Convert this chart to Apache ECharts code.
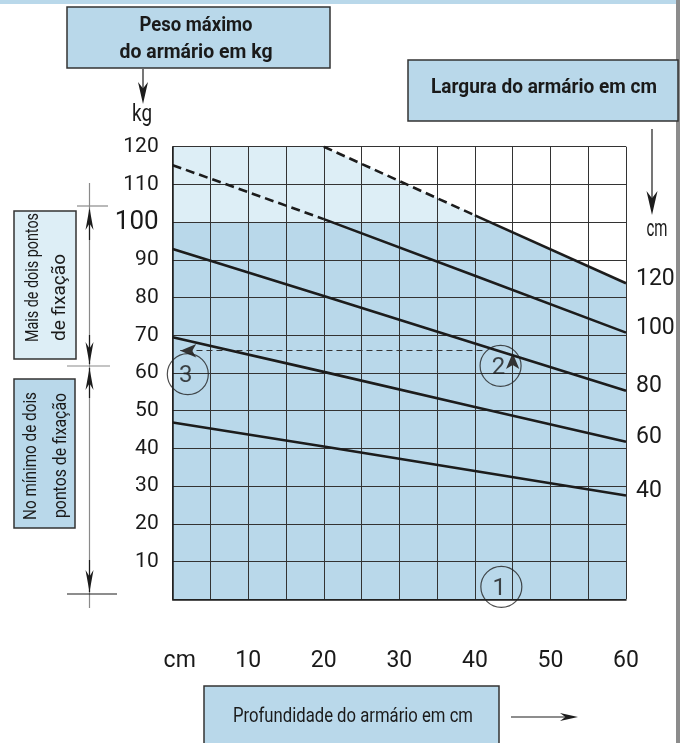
<!DOCTYPE html>
<html><head><meta charset="utf-8">
<script src="https://cdn.jsdelivr.net/npm/echarts@6/dist/echarts.min.js"></script>
<style>html,body{margin:0;padding:0;background:#fff}#c{width:682px;height:743px}</style>
</head><body><div id="c"></div>
<script>
// ---- data ----
const depth = [0, 20, 40, 60];                 // Profundidade (cm)
const w40 = [46.9, 40.5, 34.0, 27.5];          // Largura 40 cm
const w60 = [69.5, 60.3, 51.0, 41.8];          // Largura 60 cm
const w80 = [92.9, 80.4, 67.8, 55.3];          // Largura 80 cm
const w100Dashed = [[0, 115.1], [20, 100.8]];  // Largura 100 cm (above 100 kg)
const w100Solid = [[20, 100.8], [40, 85.8], [60, 70.7]];
const w120Dashed = [[20, 120], [40, 101.8]];   // Largura 120 cm (above 100 kg)
const w120Solid = [[40, 101.8], [60, 83.8]];
const lightFill = [[0, 120], [20, 120], [40, 101.8], [60, 83.8]];
const darkFill = [[0, 100], [42, 100], [60, 83.8]];
const xLabelTexts = {0: 'cm', 10: '10', 20: '20', 30: '30', 40: '40', 50: '50', 60: '60'};
const guideUp = [[45, 0], [45, 65.3]];
const guideLeft = [[41, 65.9], [1, 65.9]];
const markers = [[43.5, 3.3, '1'], [43.4, 61.9, '2'], [2.0, 59.7, '3']];

const FONT = 'Roboto, "Liberation Sans", sans-serif';
const INK = '#1c1c1c';
const DARK = '#b9d8ea';
const LIGHT = '#ddeef6';

const zip = (xs, ys) => xs.map((x, i) => [x, ys[i]]);

const measureCtx = document.createElement('canvas').getContext('2d');
function textWidth(text, size, weight) {
  measureCtx.font = weight + ' ' + size + 'px ' + FONT;
  return measureCtx.measureText(text).width;
}

function lineSeries(name, data, dashed, label) {
  return {
    type: 'line', name: name, data: data, z: 5, symbol: 'none', silent: true,
    lineStyle: {color: INK, width: 2.6, type: dashed ? [9, 5] : 'solid'},
    endLabel: {show: !!label, formatter: name, fontFamily: FONT, fontSize: 23, color: '#1a1a1a', distance: 10, offset: [0, -4]}
  };
}

const chart = echarts.init(document.getElementById('c'), null, {renderer: 'canvas'});

function arrowHead(x, y, dir, len, w) {
  let pts;
  if (dir === 'down') pts = [[x, y], [x - w / 2, y - len], [x, y - len * 0.7], [x + w / 2, y - len]];
  if (dir === 'up') pts = [[x, y], [x - w / 2, y + len], [x, y + len * 0.7], [x + w / 2, y + len]];
  if (dir === 'right') pts = [[x, y], [x - len, y - w / 2], [x - len * 0.7, y], [x - len, y + w / 2]];
  return {type: 'polygon', shape: {points: pts}, style: {fill: INK}, z: 20};
}
// text squeezed horizontally to the width it has in the reference (condensed face)
function txt(x, y, text, size, weight, target) {
  const sx = target ? target / textWidth(text, size, weight) : 1;
  return {type: 'text', x: x, y: y, scaleX: sx, z: 20,
    style: {text: text, fontFamily: FONT, fontSize: size, fontWeight: weight, fill: '#1a1a1a', align: 'center', verticalAlign: 'middle'}};
}
function vtxt(x, y, text, size, target) {
  const sx = target / textWidth(text, size, 'normal');
  return {type: 'text', x: x, y: y, rotation: Math.PI / 2, scaleX: sx, z: 20,
    style: {text: text, fontFamily: FONT, fontSize: size, fill: '#1a1a1a', align: 'left', verticalAlign: 'middle'}};
}
function line(x1, y1, x2, y2, color, w) {
  return {type: 'line', shape: {x1: x1, y1: y1, x2: x2, y2: y2}, style: {stroke: color, lineWidth: w}, z: 20};
}
function box(x, y, w, h, fill) {
  return {type: 'rect', shape: {x: x, y: y, width: w, height: h}, style: {fill: fill, stroke: '#333', lineWidth: 1.5}, z: 19};
}

const graphics = [
  {type: 'rect', shape: {x: 0, y: 0, width: 676, height: 4}, style: {fill: DARK}, z: 19},
  {type: 'rect', shape: {x: 676, y: 0, width: 4, height: 743}, style: {fill: '#8c8c8c'}, z: 19},
  box(67, 7, 263, 61, DARK),
  txt(196, 26, 'Peso máximo', 21, 'bold', 113),
  txt(196, 53, 'do armário em kg', 21, 'bold', 153),
  line(143, 69, 143, 90, INK, 1.2),
  arrowHead(143, 104, 'down', 22, 10),
  txt(142, 115, 'kg', 23, 'normal', 20),
  box(408, 60, 270, 61, DARK),
  txt(544, 88, 'Largura do armário em cm', 21, 'bold', 226),
  line(652, 129, 652, 200, INK, 1.2),
  arrowHead(652, 215, 'down', 24, 11),
  txt(657, 230, 'cm', 23, 'normal', 21),
  box(204, 686, 295, 70, DARK),
  txt(353, 717, 'Profundidade do armário em cm', 20, 'normal', 240),
  line(511, 717, 566, 717, INK, 1.2),
  arrowHead(578, 717, 'right', 18, 8),
  // left dimension lines
  line(89.5, 183, 89.5, 608, '#8a8a8a', 1.2),
  line(77, 206, 108, 206, '#8a8a8a', 1.2),
  line(67, 366, 110, 366, '#8a8a8a', 1.2),
  line(67, 594, 117, 594, INK, 1.2),
  line(89.5, 210, 89.5, 240, INK, 1.2),
  line(89.5, 335, 89.5, 364, INK, 1.2),
  line(89.5, 368, 89.5, 398, INK, 1.2),
  line(89.5, 560, 89.5, 592, INK, 1.2),
  arrowHead(89.5, 208, 'up', 22, 8),
  arrowHead(89.5, 364, 'down', 22, 8),
  arrowHead(89.5, 368, 'up', 22, 8),
  arrowHead(89.5, 592, 'down', 22, 8),
  box(14, 211, 62, 148, LIGHT),
  vtxt(33, 342, 'Mais de dois pontos', 18, 129),
  vtxt(60, 341, 'de fixação', 18, 87),
  box(14, 379, 61, 149, DARK),
  vtxt(31, 520, 'No mínimo de dois', 18, 128),
  vtxt(61, 518, 'pontos de fixação', 18, 125)
];

const option = {
  animation: false,
  backgroundColor: '#fff',
  grid: {left: 172.7, right: 56, top: 146.7, bottom: 143.7, containLabel: false},
  xAxis: {
    type: 'value', min: 0, max: 60, interval: 5, z: 3,
    axisLine: {show: true, onZero: false, lineStyle: {color: INK, width: 1.5}},
    axisTick: {show: false},
    splitLine: {show: true, lineStyle: {color: '#333', width: 1}},
    axisLabel: {
      margin: 50, fontFamily: FONT, fontSize: 23, color: '#1a1a1a',
      formatter: v => (xLabelTexts[v] === undefined ? '' : (v === 0 ? '{cm|cm}' : xLabelTexts[v])),
      rich: {cm: {fontFamily: FONT, fontSize: 23, color: '#1a1a1a', padding: [0, 0, 0, 14]}}
    }
  },
  yAxis: {
    type: 'value', min: 0, max: 120, interval: 10, z: 3,
    axisLine: {show: true, lineStyle: {color: INK, width: 1.5}},
    axisTick: {show: false},
    splitLine: {show: true, lineStyle: {color: '#333', width: 1}},
    axisLabel: {
      margin: 14, fontFamily: FONT, fontSize: 21, color: '#1a1a1a',
      formatter: v => (v === 0 ? '' : (v === 100 ? '{big|100}' : String(v))),
      rich: {big: {fontFamily: FONT, fontSize: 26, color: '#1a1a1a'}}
    }
  },
  series: [
    {type: 'line', data: lightFill, z: 1, symbol: 'none', silent: true, lineStyle: {width: 0}, areaStyle: {color: LIGHT, opacity: 1}},
    {type: 'line', data: darkFill, z: 1, symbol: 'none', silent: true, lineStyle: {width: 0}, areaStyle: {color: DARK, opacity: 1}},
    lineSeries('40', zip(depth, w40), false, true),
    lineSeries('60', zip(depth, w60), false, true),
    lineSeries('80', zip(depth, w80), false, true),
    lineSeries('100', w100Dashed, true, false),
    lineSeries('100', w100Solid, false, true),
    lineSeries('120', w120Dashed, true, false),
    lineSeries('120', w120Solid, false, true),
    {
      type: 'line', data: [], z: 6, silent: true,
      markLine: {
        silent: true, animation: false,
        symbol: ['none', 'arrow'], symbolSize: [10, 16],
        label: {show: false},
        lineStyle: {color: '#333', width: 1, type: [6, 4]},
        data: [
          [{coord: guideUp[0]}, {coord: guideUp[1]}],
          [{coord: guideLeft[0]}, {coord: guideLeft[1]}]
        ]
      }
    },
    {
      type: 'scatter', data: markers, z: 7, clip: false, silent: true,
      symbol: 'circle', symbolSize: 41,
      itemStyle: {color: 'rgba(0,0,0,0)', borderColor: '#222', borderWidth: 1.2},
      label: {show: true, position: 'inside', formatter: p => p.value[2], fontFamily: FONT, fontSize: 24, color: '#1a1a1a', offset: [-2, 2]}
    }
  ],
  graphic: graphics
};
chart.setOption(option);
</script></body></html>
